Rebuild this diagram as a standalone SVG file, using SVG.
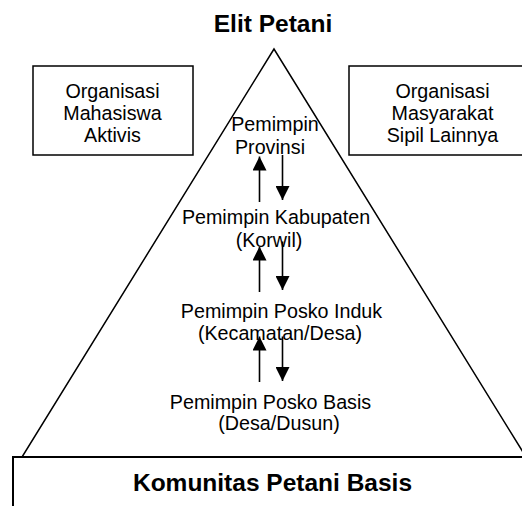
<svg xmlns="http://www.w3.org/2000/svg" width="522" height="506" viewBox="0 0 522 506">
  <style>
    .frame { fill: none; stroke: #000; stroke-width: 1.5; }
    .base { fill: #fff; stroke: #000; stroke-width: 2; }
    .t { font-family: "Liberation Sans", Arial, sans-serif; font-size: 19.7px; fill: #000; text-anchor: middle; }
    .h { font-family: "Liberation Sans", Arial, sans-serif; font-size: 24.5px; font-weight: bold; fill: #000; text-anchor: middle; }
    .link { stroke: #000; stroke-width: 1.6; fill: none; marker-end: url(#head); }
  </style>
  <defs>
    <marker id="head" markerUnits="userSpaceOnUse" markerWidth="14" markerHeight="14" refX="14" refY="7" orient="auto">
      <path d="M0,0 L14,7 L0,14 z" fill="#000"/>
    </marker>
  </defs>
  <rect width="522" height="506" fill="#fff"/>

  <!-- pyramid outline -->
  <g id="pyramid">
    <polygon class="frame" points="274,49 22,457 526,457"/>
  </g>

  <g id="elit-petani">
    <text class="h" x="273" y="32">Elit Petani</text>
  </g>

  <g id="organisasi-mahasiswa">
    <rect class="frame" x="33" y="66" width="160" height="89"/>
    <text class="t" x="112.5" y="98">Organisasi</text>
    <text class="t" x="112.5" y="120">Mahasiswa</text>
    <text class="t" x="112.5" y="141.5">Aktivis</text>
  </g>

  <g id="organisasi-masyarakat">
    <rect class="frame" x="349" y="66" width="190" height="89"/>
    <text class="t" x="442.5" y="98">Organisasi</text>
    <text class="t" x="442.5" y="120">Masyarakat</text>
    <text class="t" x="442.5" y="141.5">Sipil Lainnya</text>
  </g>

  <g id="pemimpin-provinsi">
    <text class="t" x="275" y="131">Pemimpin</text>
    <text class="t" x="270" y="154">Provinsi</text>
  </g>

  <g id="pemimpin-kabupaten">
    <text class="t" x="276" y="224">Pemimpin Kabupaten</text>
    <text class="t" x="269" y="247">(Korwil)</text>
  </g>

  <g id="pemimpin-posko-induk">
    <text class="t" x="281.5" y="317.5">Pemimpin Posko Induk</text>
    <text class="t" x="280" y="340">(Kecamatan/Desa)</text>
  </g>

  <g id="pemimpin-posko-basis">
    <text class="t" x="270.5" y="409">Pemimpin Posko Basis</text>
    <text class="t" x="279" y="430">(Desa/Dusun)</text>
  </g>

  <g id="komunitas-petani-basis">
    <rect class="base" x="13" y="457" width="530" height="60"/>
    <text class="h" x="272.5" y="491">Komunitas Petani Basis</text>
  </g>

  <!-- upward and downward links between levels -->
  <g id="connectors">
    <line class="link" x1="259.5" y1="202" x2="259.5" y2="156.5"/>
    <line class="link" x1="282.5" y1="155" x2="282.5" y2="200"/>
    <line class="link" x1="259.5" y1="292" x2="259.5" y2="246.5"/>
    <line class="link" x1="282.5" y1="241.5" x2="282.5" y2="290"/>
    <line class="link" x1="259.5" y1="382" x2="259.5" y2="336.5"/>
    <line class="link" x1="282.5" y1="336.5" x2="282.5" y2="381"/>
  </g>
</svg>
